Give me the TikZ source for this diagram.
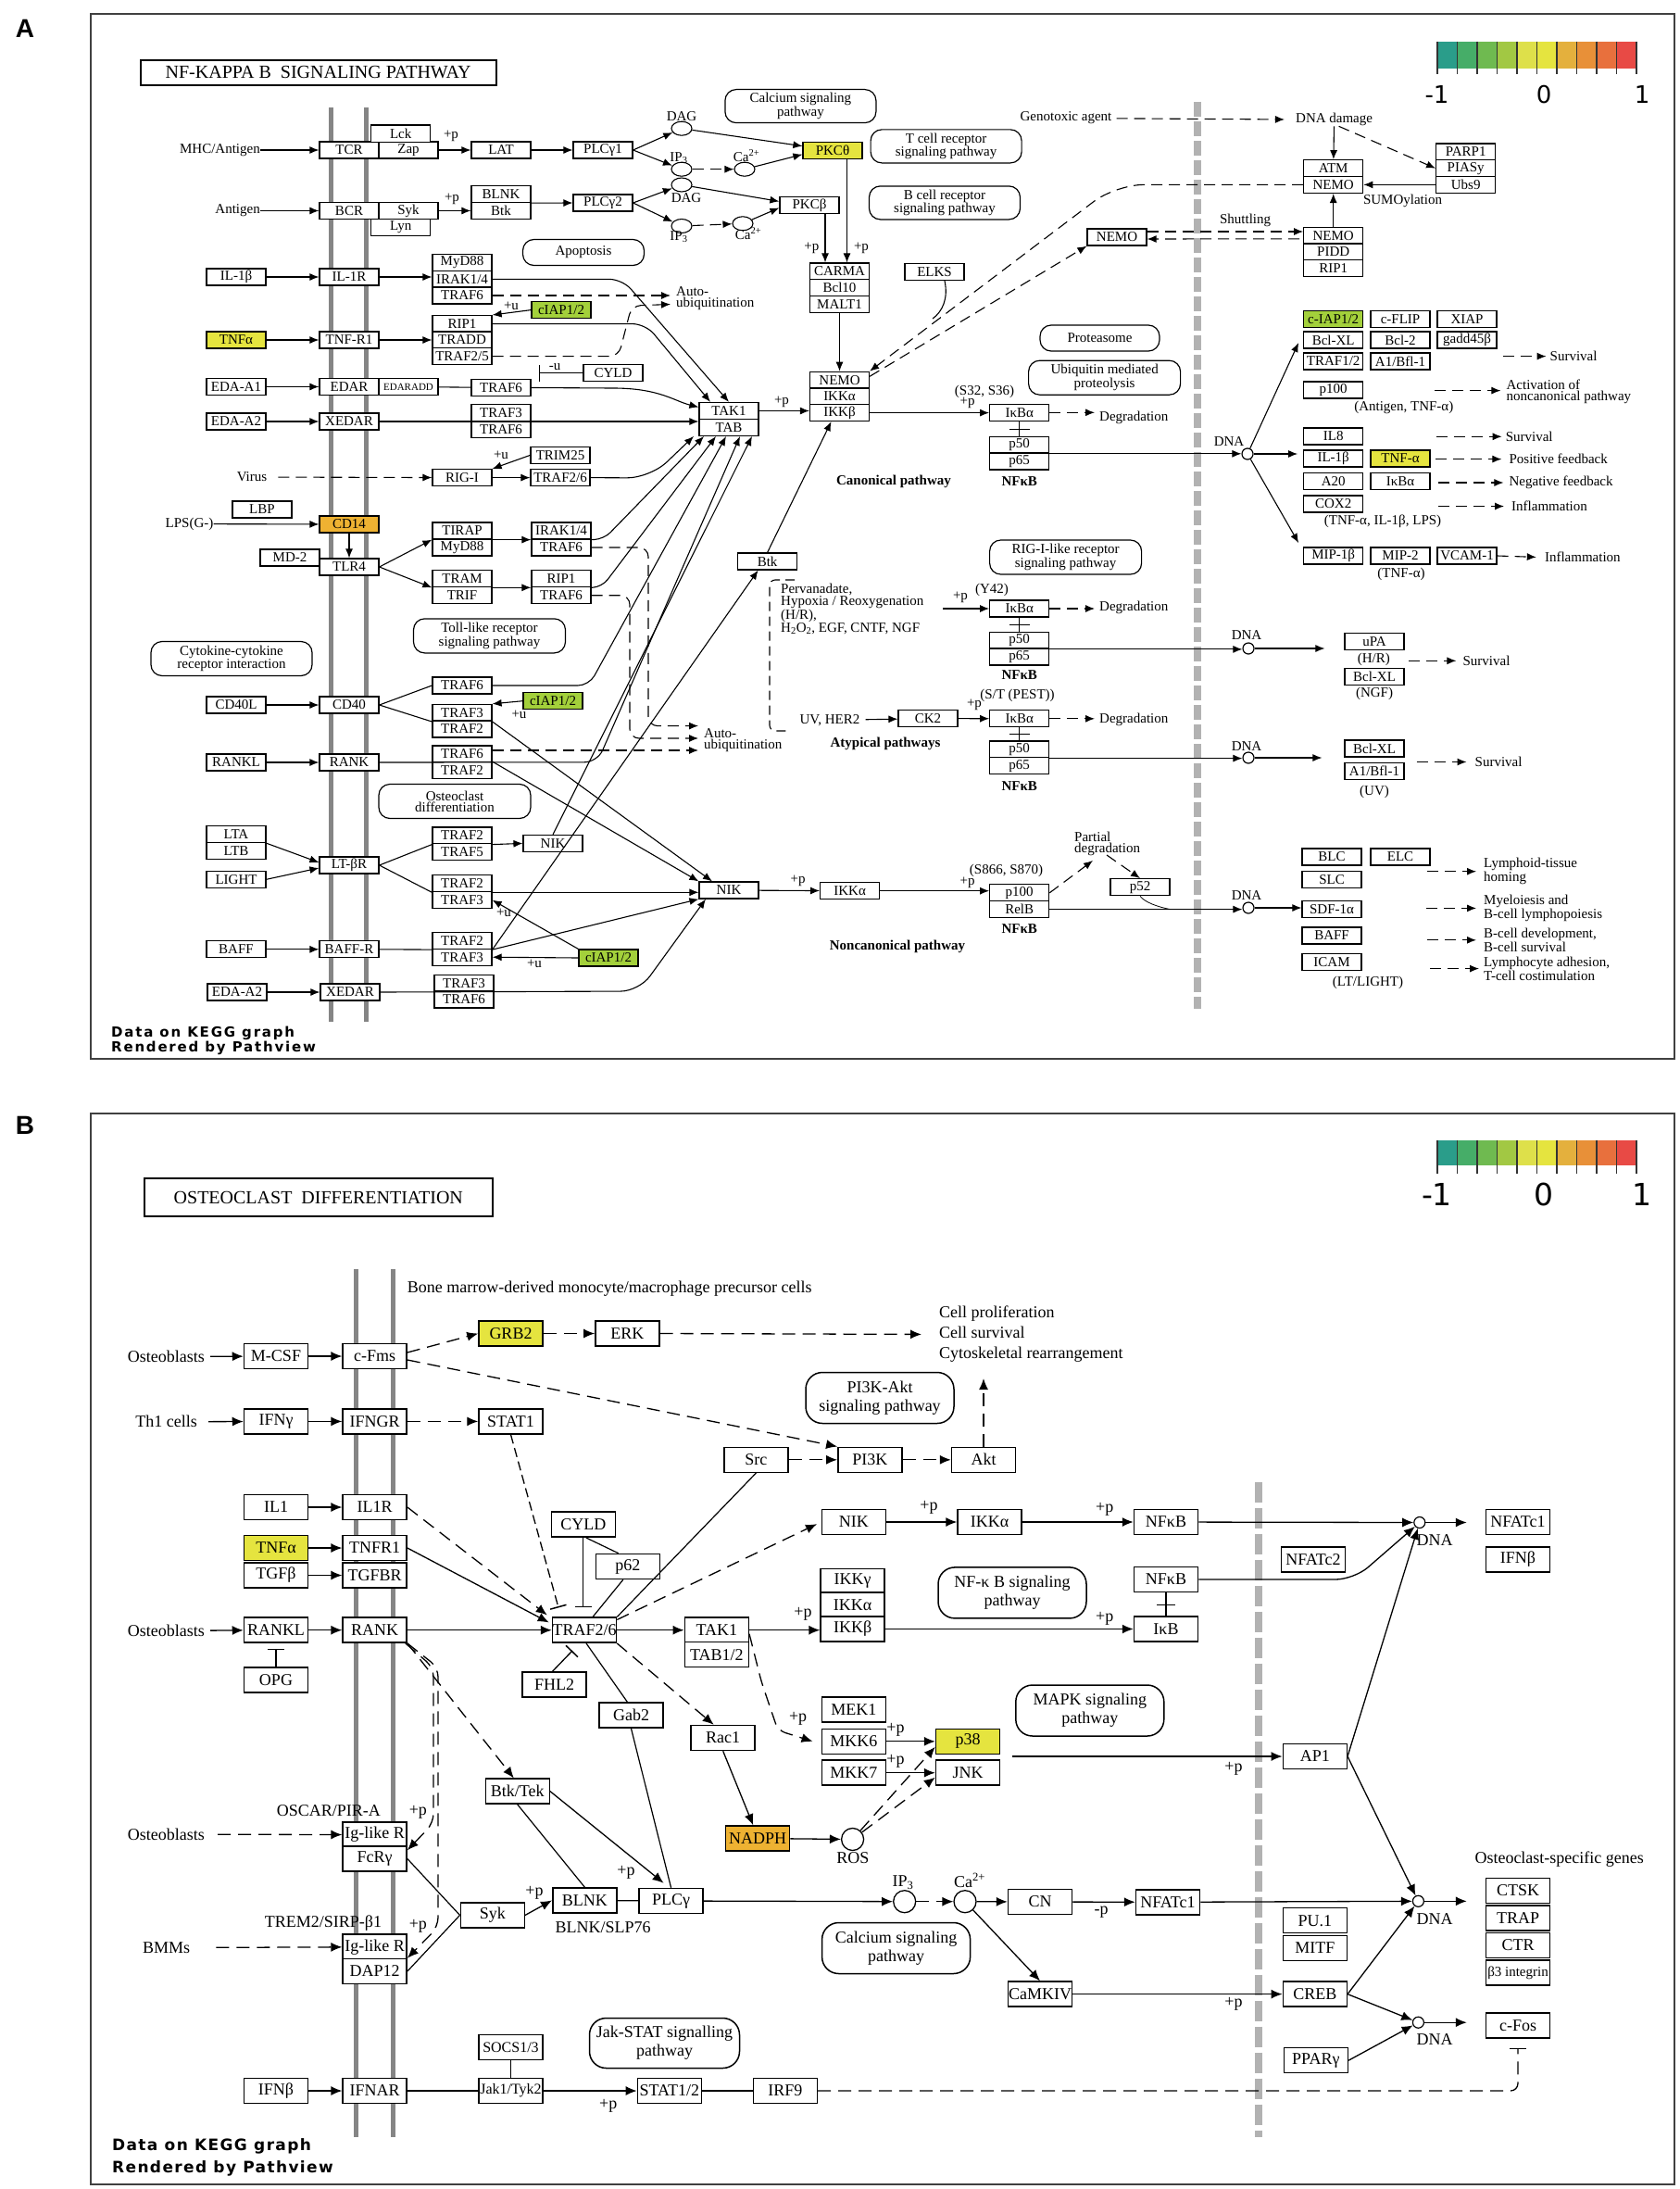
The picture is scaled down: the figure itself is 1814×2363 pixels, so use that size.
\documentclass[tikz,border=0pt]{standalone}
\usepackage{fontspec}
\setmainfont{Liberation Serif}
\newfontfamily\legfont{DejaVu Sans}
\newfontfamily\pvfontA[LetterSpace=12]{DejaVu Sans}
\newfontfamily\pvfontB[LetterSpace=8]{DejaVu Sans}
\newfontfamily\panelfont{Liberation Sans}
\usetikzlibrary{arrows.meta,shapes.geometric,positioning}

\definecolor{kyellow}{RGB}{229,228,63}
\definecolor{kgreen}{RGB}{163,208,59}
\definecolor{korange}{RGB}{238,178,50}
\definecolor{lg1}{RGB}{42,157,138}
\definecolor{lg2}{RGB}{70,173,104}
\definecolor{lg3}{RGB}{111,186,80}
\definecolor{lg4}{RGB}{162,200,67}
\definecolor{lg5}{RGB}{222,224,74}
\definecolor{lg6}{RGB}{229,228,63}
\definecolor{lg7}{RGB}{228,176,61}
\definecolor{lg8}{RGB}{232,144,56}
\definecolor{lg9}{RGB}{232,112,61}
\definecolor{lg10}{RGB}{232,74,69}

\tikzset{
  gene/.style={draw, line width=1.2pt, fill=white, minimum width=64pt, minimum height=18pt, inner sep=0pt, font=\fontsize{15}{15}\selectfont},
  bgene/.style={gene, line width=1.5pt, minimum width=69pt, minimum height=27pt, font=\fontsize{18}{18}\selectfont},
  pw/.style={draw, line width=1.2pt, rounded corners=12pt, align=center, inner sep=0pt, font=\fontsize{15}{12}\selectfont},
  bpw/.style={pw, line width=1.5pt, rounded corners=18pt, font=\fontsize{18}{20}\selectfont},
  txt/.style={inner sep=0pt, font=\fontsize{15}{12}\selectfont},
  btxt/.style={inner sep=0pt, font=\fontsize{18}{22}\selectfont},
  boldlbl/.style={inner sep=0pt, font=\fontsize{15}{12}\selectfont\bfseries},
  link/.style={line width=1.1pt},
  act/.style={-{Latex[length=10pt,width=8pt]}, line width=1.1pt},
  dact/.style={act, dash pattern=on 12pt off 7pt},
  bact/.style={-{Latex[length=12pt,width=10pt]}, line width=1.3pt},
  bdact/.style={bact, dash pattern=on 14pt off 8pt},
  inh/.style={-{Bar[width=18pt,line width=1.5pt]}, line width=1.3pt},
  cpd/.style={draw, ellipse, line width=1.1pt, fill=white, minimum width=22pt, minimum height=15pt, inner sep=0pt},
  bcpd/.style={draw, circle, line width=1.3pt, fill=white, minimum size=24pt, inner sep=0pt},
  dna/.style={draw, circle, line width=1.2pt, fill=white, minimum size=12pt, inner sep=0pt},
  membrane/.style={line width=5pt, draw=black!48},
  nucleus/.style={line width=7.5pt, draw=black!30},
  panelframe/.style={draw=black!75, line width=2pt},
  titlebox/.style={draw, line width=2pt, inner sep=0pt},
  panellbl/.style={inner sep=0pt, font=\panelfont\bfseries\fontsize{28}{28}\selectfont},
  legnum/.style={inner sep=0pt, font=\legfont\fontsize{26}{26}\selectfont},
  pvtxt/.style={inner sep=0pt, anchor=west, align=left, font=\pvfontA\bfseries\fontsize{15}{16.5}\selectfont}
}

\begin{document}
\begin{tikzpicture}[x=1pt,y=-1pt]
\useasboundingbox (0,0) rectangle (1814,2363);
\fill[white] (0,0) rectangle (1814,2363);

% frames, titles, legends
\draw[panelframe] (98,15) rectangle (1808,1143);
\draw[panelframe] (98,1202) rectangle (1808,2358);
\node[panellbl] (labA) at (27,31) {A};
\node[panellbl] (labB) at (27,1215) {B};
\node[titlebox, minimum width=384pt, minimum height=27pt, font=\fontsize{20}{20}\selectfont] (titA) at (343.7,78.4) {NF-KAPPA B\ \ SIGNALING PATHWAY};
\node[titlebox, minimum width=376pt, minimum height=41pt, font=\fontsize{20}{20}\selectfont] (titB) at (343.8,1292.5) {OSTEOCLAST\ \ DIFFERENTIATION};

\foreach \c [count=\i from 0] in {lg1,lg2,lg3,lg4,lg5,lg6,lg7,lg8,lg9,lg10} {
  \fill[\c] (1552+21.5*\i,45) rectangle ++(21.5,29);
  \fill[\c] (1552+21.5*\i,1230.7) rectangle ++(21.5,27.7);
}
\foreach \i in {0,...,10} {
  \draw[line width=1.2pt, black!80] (1552+21.5*\i,45) -- ++(0,35);
  \draw[line width=1.2pt, black!80] (1552+21.5*\i,1230.7) -- ++(0,36);
}
\node[legnum] (legA1) at (1551.5,102) {-1};
\node[legnum] (legA2) at (1667,102) {0};
\node[legnum] (legA3) at (1773,102) {1};
\node[legnum, font=\legfont\fontsize{33}{33}\selectfont] (legB1) at (1551.5,1289) {-1};
\node[legnum, font=\legfont\fontsize{33}{33}\selectfont] (legB2) at (1667,1289) {0};
\node[legnum, font=\legfont\fontsize{33}{33}\selectfont] (legB3) at (1773,1289) {1};

\node[pvtxt] (pvA) at (120,1123.4) {Data on KEGG graph\\Rendered by Pathview};
\node[pvtxt, font=\pvfontB\bfseries\fontsize{17}{24}\selectfont] (pvB) at (121,2329) {Data on KEGG graph\\Rendered by Pathview};

% membranes
\draw[membrane] (357,116) -- (357,1103);
\draw[membrane] (395,116) -- (395,1103);
\draw[nucleus, dash pattern=on 16pt off 5pt] (1293,110) -- (1293,1089);
\draw[membrane] (384.8,1370) -- (384.8,2307);
\draw[membrane] (424.8,1370) -- (424.8,2307);
\draw[nucleus, line width=8pt, dash pattern=on 22pt off 6pt] (1359.2,1599.5) -- (1359.2,2307);

%%%%%%%%%%%%%%%%%%%% panel A
\node[pw, minimum width=163pt, minimum height=36pt] (calca) at (864.4,114.6) {Calcium signaling\\pathway};
\node[pw, minimum width=163pt, minimum height=36pt] (tcrpw) at (1021.6,157.9) {T cell receptor\\signaling pathway};
\node[pw, minimum width=163pt, minimum height=36pt] (bcrpw) at (1020,218.9) {B cell receptor\\signaling pathway};
\node[pw, minimum width=131pt, minimum height=28pt] (apop) at (630,272.5) {Apoptosis};
\node[pw, minimum width=129pt, minimum height=28pt] (prot) at (1187.5,365) {Proteasome};
\node[pw, minimum width=164pt, minimum height=37pt] (ubq) at (1192.6,407.7) {Ubiquitin mediated\\proteolysis};
\node[pw, minimum width=164pt, minimum height=37pt] (tollpw) at (528.5,686.4) {Toll-like receptor\\signaling pathway};
\node[pw, minimum width=174pt, minimum height=37pt] (cytpw) at (250,711) {Cytokine-cytokine\\receptor interaction};
\node[pw, minimum width=164pt, minimum height=37pt] (ostpw) at (491,865) {Osteoclast\\differentiation};
\node[pw, minimum width=164pt, minimum height=37pt] (rigpw) at (1150.6,601.5) {RIG-I-like receptor\\signaling pathway};

\node[gene] (tcr) at (377,162) {TCR};
\node[gene] (zap) at (441,162) {Zap};
\node[gene] (lck) at (432.7,144.1) {Lck};
\node[gene] (lat) at (541,162) {LAT};
\node[gene] (plcga) at (651,162) {PLCγ1};
\node[txt, anchor=east] (mhc) at (281,162) {MHC/Antigen};
\node[gene] (bcr) at (377,227.5) {BCR};
\node[gene] (syk) at (441,227.5) {Syk};
\node[gene] (lyn) at (432.7,245.3) {Lyn};
\node[gene] (blnk) at (541,209.6) {BLNK};
\node[gene] (btka) at (541,227.5) {Btk};
\node[gene] (plcgb) at (651,219) {PLCγ2};
\node[txt, anchor=east] (antg) at (281,227.5) {Antigen};

\node[cpd] (dag1) at (736,138.7) {};
\node[cpd] (ip31) at (736,182.7) {};
\node[cpd] (ca1) at (804,182.7) {};
\node[cpd] (dag2) at (736,199.5) {};
\node[cpd] (ip32) at (736,244) {};
\node[cpd] (ca2) at (802,241.3) {};
\node[txt] (ldag1) at (736,125.5) {DAG};
\node[txt] (lip31) at (733,171) {IP\textsubscript{3}};
\node[txt] (lca1) at (806,168) {Ca\textsuperscript{2+}};
\node[txt] (ldag2) at (741,214) {DAG};
\node[txt] (lip32) at (733,256) {IP\textsubscript{3}};
\node[txt] (lca2) at (808,252) {Ca\textsuperscript{2+}};

\node[gene, fill=kyellow] (pkct) at (899,162.7) {PKCθ};
\node[gene] (pkcb) at (874,221.4) {PKCβ};
\node[gene] (carma) at (906.5,293) {CARMA};
\node[gene] (bcl10) at (906.5,310.7) {Bcl10};
\node[gene] (malt1) at (906.5,328.3) {MALT1};
\node[gene] (nemoa) at (906.5,410.3) {NEMO};
\node[gene] (ikkaa) at (906.5,428) {IKKα};
\node[gene] (ikkba) at (906.5,445.6) {IKKβ};
\node[gene] (tak1a) at (787,443.5) {TAK1};
\node[gene] (taba) at (787,461.4) {TAB};
\node[gene] (elks) at (1009,293.5) {ELKS};
\node[gene] (nemob) at (1206,256) {NEMO};

\node[gene] (il1ba) at (255,299) {IL-1β};
\node[gene] (il1r) at (377,299) {IL-1R};
\node[gene] (myd88a) at (499,283.5) {MyD88};
\node[gene] (irak1) at (499,301.4) {IRAK1/4};
\node[gene] (traf6a) at (499,319) {TRAF6};
\node[gene, fill=kgreen] (ciap1) at (606,334.6) {cIAP1/2};
\node[gene] (rip1a) at (499,349.6) {RIP1};
\node[gene] (tradd) at (499,367) {TRADD};
\node[gene] (traf25) at (499,384.6) {TRAF2/5};
\node[gene, fill=kyellow] (tnfa) at (255,367) {TNFα};
\node[gene] (tnfr1) at (377,367) {TNF-R1};
\node[gene] (edaa1) at (255,417.5) {EDA-A1};
\node[gene] (edar) at (377,417.5) {EDAR};
\node[gene, font=\fontsize{11}{11}\selectfont] (edaradd) at (441,417.5) {EDARADD};
\node[gene] (traf6b) at (541,418.5) {TRAF6};
\node[gene] (cylda) at (662,402.5) {CYLD};
\node[gene] (edaa2) at (255,455) {EDA-A2};
\node[gene] (xedara) at (377,455) {XEDAR};
\node[gene] (traf3a) at (541,445.4) {TRAF3};
\node[gene] (traf6c) at (541,463.2) {TRAF6};
\node[txt] (virus) at (272,515) {Virus};
\node[gene] (rigi) at (499,515.6) {RIG-I};
\node[gene] (trim25) at (605,491.4) {TRIM25};
\node[gene] (traf26a) at (605,515.6) {TRAF2/6};
\node[gene] (lbp) at (283,550) {LBP};
\node[txt] (lps) at (204.5,565.6) {LPS(G-)};
\node[gene, fill=korange] (cd14) at (377,566) {CD14};
\node[gene] (md2) at (313,602) {MD-2};
\node[gene] (tlr4) at (377,612) {TLR4};
\node[gene] (tirap) at (499,573) {TIRAP};
\node[gene] (myd88b) at (499,591) {MyD88};
\node[gene] (irak2) at (606,573) {IRAK1/4};
\node[gene] (traf6d) at (606,591) {TRAF6};
\node[gene] (tram) at (499,624.7) {TRAM};
\node[gene] (trif) at (499,642.7) {TRIF};
\node[gene] (rip1b) at (606,624.7) {RIP1};
\node[gene] (traf6e) at (606,642.7) {TRAF6};
\node[gene] (cd40l) at (255,761) {CD40L};
\node[gene] (cd40) at (377,761) {CD40};
\node[gene] (traf6f) at (499,740) {TRAF6};
\node[gene] (traf3b) at (499,769.4) {TRAF3};
\node[gene] (traf2b) at (499,787) {TRAF2};
\node[gene, fill=kgreen] (ciap2) at (597,756.7) {cIAP1/2};
\node[gene] (rankla) at (255,823) {RANKL};
\node[gene] (ranka) at (377,823) {RANK};
\node[gene] (traf6g) at (499,814) {TRAF6};
\node[gene] (traf2c) at (499,831.7) {TRAF2};
\node[gene] (lta) at (255,900.6) {LTA};
\node[gene] (ltb) at (255,918.4) {LTB};
\node[gene] (light) at (255,949.3) {LIGHT};
\node[gene] (ltbr) at (377,934) {LT-βR};
\node[gene] (traf2d) at (499,902) {TRAF2};
\node[gene] (traf5) at (499,919.6) {TRAF5};
\node[gene] (niksm) at (597,910.4) {NIK};
\node[gene] (traf2e) at (499,953.7) {TRAF2};
\node[gene] (traf3c) at (499,971.6) {TRAF3};
\node[gene] (baffa) at (255,1024.8) {BAFF};
\node[gene] (baffr) at (377,1024.8) {BAFF-R};
\node[gene] (traf2f) at (499,1015.5) {TRAF2};
\node[gene] (traf3d) at (499,1033.2) {TRAF3};
\node[gene, fill=kgreen] (ciap3) at (657,1034) {cIAP1/2};
\node[gene] (edaa2b) at (256,1071) {EDA-A2};
\node[gene] (xedarb) at (378,1071) {XEDAR};
\node[gene] (traf3e) at (501,1061.3) {TRAF3};
\node[gene] (traf6h) at (501,1079) {TRAF6};
\node[gene] (btka2) at (828.6,606) {Btk};
\node[gene] (nikbg) at (787,961) {NIK};
\node[gene] (ikkab) at (917.6,961.7) {IKKα};

% canonical / atypical / noncanonical NF-kB
\node[gene] (ikba1) at (1100.7,445.3) {IκBα};
\node[gene] (p50a) at (1100.7,480.2) {p50};
\node[gene] (p65a) at (1100.7,498) {p65};
\node[boldlbl] (nfkb1) at (1100.7,519.6) {NFκB};
\node[boldlbl] (canon) at (965,519.6) {Canonical pathway};
\node[txt] (s3236) at (1063,423) {(S32, S36)};
\node[txt, anchor=west] (deg1) at (1187,450.7) {Degradation};
\node[txt, anchor=north west, align=left, font=\fontsize{15}{11.5}\selectfont] (perv) at (843,630) {Pervanadate,\\Hypoxia / Reoxygenation\\(H/R),\\H\textsubscript{2}O\textsubscript{2}, EGF, CNTF, NGF};
\node[txt] (y42) at (1071,637) {(Y42)};
\node[gene] (ikba2) at (1100.7,657) {IκBα};
\node[gene] (p50b) at (1100.7,691.3) {p50};
\node[gene] (p65b) at (1100.7,709) {p65};
\node[boldlbl] (nfkb2) at (1100.7,729) {NFκB};
\node[txt, anchor=west] (deg2) at (1187,656) {Degradation};
\node[txt] (uvher) at (896,777.4) {UV, HER2};
\node[gene] (ck2) at (1002,775.6) {CK2};
\node[txt] (stpest) at (1098.5,751) {(S/T (PEST))};
\node[gene] (ikba3) at (1100.7,775.8) {IκBα};
\node[gene] (p50c) at (1100.7,809) {p50};
\node[gene] (p65c) at (1100.7,826.8) {p65};
\node[boldlbl] (nfkb3) at (1100.7,848.3) {NFκB};
\node[txt, anchor=west] (deg3) at (1187,777.4) {Degradation};
\node[boldlbl] (atyp) at (956,802.5) {Atypical pathways};
\node[txt] (s866) at (1086.5,940) {(S866, S870)};
\node[gene] (p100a) at (1100.7,963.8) {p100};
\node[gene] (relb) at (1100.7,981.6) {RelB};
\node[boldlbl] (nfkb4) at (1100.7,1002.4) {NFκB};
\node[boldlbl] (noncan) at (969,1021.7) {Noncanonical pathway};
\node[txt, anchor=west, align=left] (partdeg) at (1160,911) {Partial\\degradation};
\node[gene] (p52) at (1231,957.7) {p52};
\coordinate (pd1) at (1180,929);
\coordinate (pd2) at (1195,923);

% top right
\node[txt] (geno) at (1151,127.5) {Genotoxic agent};
\node[txt] (dnadmg) at (1440.6,129.3) {DNA damage};
\node[gene] (atm) at (1439.7,181.7) {ATM};
\node[gene] (nemoc) at (1439.7,199.4) {NEMO};
\node[gene] (parp1) at (1582.7,164) {PARP1};
\node[gene] (piasy) at (1582.7,181.7) {PIASy};
\node[gene] (ubs9) at (1582.7,199.4) {Ubs9};
\node[txt] (sumo) at (1514.5,216.8) {SUMOylation};
\node[gene] (nemod) at (1439.7,254.3) {NEMO};
\node[gene] (pidd) at (1439.7,272) {PIDD};
\node[gene] (rip1c) at (1439.7,289.7) {RIP1};
\node[txt] (shut) at (1344.6,237.5) {Shuttling};

% nucleus targets
\node[dna] (dnaa1) at (1347,490) {};
\node[txt] (ldnaa1) at (1327,476.4) {DNA};
\node[gene, fill=kgreen] (ciapb) at (1439.7,344.2) {c-IAP1/2};
\node[gene] (cflip) at (1512,344.2) {c-FLIP};
\node[gene] (xiap) at (1584,344.2) {XIAP};
\node[gene] (bclxla) at (1439.7,367) {Bcl-XL};
\node[gene] (bcl2) at (1512,367) {Bcl-2};
\node[gene] (gadd) at (1584,367) {gadd45β};
\node[gene] (traf12) at (1439.7,390) {TRAF1/2};
\node[gene] (a1bfla) at (1512,390) {A1/Bfl-1};
\node[gene] (p100b) at (1439.7,421) {p100};
\node[txt] (agtnf) at (1515.8,440) {(Antigen, TNF-α)};
\node[gene] (il8) at (1439.7,470.9) {IL8};
\node[gene] (il1bb) at (1439.7,495) {IL-1β};
\node[gene, fill=kyellow] (tnfab) at (1512,495) {TNF-α};
\node[gene] (a20) at (1439.7,519.4) {A20};
\node[gene] (ikbab) at (1512,519.4) {IκBα};
\node[gene] (cox2) at (1439.7,544) {COX2};
\node[txt] (tnflps) at (1493,563) {(TNF-α, IL-1β, LPS)};
\node[gene] (mip1b) at (1439.7,600) {MIP-1β};
\node[gene] (mip2) at (1512,600) {MIP-2};
\node[gene] (vcam) at (1584,600) {VCAM-1};
\node[txt] (tnfonly) at (1513,620) {(TNF-α)};
\node[txt, anchor=west] (surv1) at (1673.5,384.6) {Survival};
\node[txt, anchor=west, align=left] (actnc) at (1626.4,422.6) {Activation of\\noncanonical pathway};
\node[txt, anchor=west] (surv2) at (1625.6,471.3) {Survival};
\node[txt, anchor=west] (posfb) at (1629.4,495.6) {Positive feedback};
\node[txt, anchor=west] (negfb) at (1629.4,521) {Negative feedback};
\node[txt, anchor=west] (infl1) at (1632,546.5) {Inflammation};
\node[txt, anchor=west] (infl2) at (1667.8,601.4) {Inflammation};

\node[dna] (dnaa2) at (1348,700) {};
\node[txt] (ldnaa2) at (1346,686) {DNA};
\node[gene] (upa) at (1484,692.7) {uPA};
\node[txt] (hr) at (1483.4,711.6) {(H/R)};
\node[gene] (bclxlb) at (1484,730.5) {Bcl-XL};
\node[txt] (ngf) at (1484,749) {(NGF)};
\node[txt, anchor=west] (surv3) at (1579.4,713.3) {Survival};
\node[dna] (dnaa3) at (1348,818) {};
\node[txt] (ldnaa3) at (1346,806) {DNA};
\node[gene] (bclxlc) at (1484,808) {Bcl-XL};
\node[gene] (a1bflb) at (1484,832.2) {A1/Bfl-1};
\node[txt] (uvl) at (1484,854.4) {(UV)};
\node[txt, anchor=west] (surv4) at (1592.5,822.5) {Survival};
\node[dna] (dnaa4) at (1348,980) {};
\node[txt] (ldnaa4) at (1346,967) {DNA};
\node[gene] (blc) at (1438,925) {BLC};
\node[gene] (elc) at (1512,925) {ELC};
\node[gene] (slc) at (1438,949.3) {SLC};
\node[gene] (sdf1a) at (1438,981.7) {SDF-1α};
\node[gene] (baffb) at (1438,1010) {BAFF};
\node[gene] (icam) at (1438,1038.4) {ICAM};
\node[txt] (ltlight) at (1477,1061) {(LT/LIGHT)};
\node[txt, anchor=west, align=left] (lymph) at (1602,940.7) {Lymphoid-tissue\\homing};
\node[txt, anchor=west, align=left] (myelo) at (1602,980.4) {Myeloiesis and\\B-cell lymphopoiesis};
\node[txt, anchor=west, align=left] (bdev) at (1602,1014.8) {B-cell development,\\B-cell survival};
\node[txt, anchor=west, align=left] (ladh) at (1602,1045.6) {Lymphocyte adhesion,\\T-cell costimulation};

\node[txt, anchor=west, align=left] (autoa) at (730,322.6) {Auto-\\ubiquitination};
\node[txt, anchor=west, align=left] (autob) at (760,799.4) {Auto-\\ubiquitination};
\coordinate (au1a) at (724,319);
\coordinate (au1b) at (724,328.5);
\coordinate (au2a) at (754,783.6);
\coordinate (au2b) at (754,797);
\coordinate (au2c) at (754,810);

% small labels
\node[txt] (pA1) at (487,147) {+p};
\node[txt] (pA2) at (488,215) {+p};
\node[txt] (uA1) at (552,330) {+u};
\node[txt] (uA2) at (541,491.7) {+u};
\node[txt] (uA3) at (599,396) {-u};
\node[txt] (uA4) at (560.5,771) {+u};
\node[txt] (uA5) at (544,985) {+u};
\node[txt] (uA6) at (577,1040) {+u};
\node[txt] (pA3) at (876.4,267.5) {+p};
\node[txt] (pA4) at (930,267.5) {+p};
\node[txt] (pA5) at (844,434) {+p};
\node[txt] (pA6) at (1044.7,434.6) {+p};
\node[txt] (pA7) at (1037,645) {+p};
\node[txt] (pA8) at (1052,761) {+p};
\node[txt] (pA9) at (861.6,950.8) {+p};
\node[txt] (pA10) at (1044.7,952.6) {+p};

% connectors A
\draw[act] (mhc) -- (tcr);
\draw[act] (zap) -- (lat);
\draw[act] (lat) -- (plcga);
\draw[act] (antg) -- (bcr);
\draw[act] (syk) -- (btka);
\draw[act] (blnk.south east) -- (plcgb.west);
\draw[act] (plcga.east) -- (dag1);
\draw[act] (plcga.east) -- (ip31);
\draw[dact] (ip31) -- (ca1);
\draw[act] (dag1) -- ([yshift=5pt]pkct.west);
\draw[act] (ca1) -- ([yshift=-4pt]pkct.west);
\draw[act] (plcgb.east) -- (dag2);
\draw[act] (plcgb.east) -- (ip32);
\draw[dact] (ip32) -- (ca2);
\draw[act] (dag2) -- ([yshift=4pt]pkcb.west);
\draw[act] (ca2) -- ([yshift=-3pt]pkcb.west);
\draw[act] ([xshift=17pt]pkcb.south) -- ([xshift=-15.5pt]carma.north);
\draw[act] ([xshift=15.5pt]pkct.south) -- ([xshift=8pt]carma.north);
\draw[act] (malt1) -- (nemoa);
\draw[act] (tak1a.east) -- (tak1a.east -| ikkba.west);
\draw[act] (il1ba) -- (il1r);
\draw[act] (il1r.east) -- (il1r.east -| irak1.west);
\draw[act] (tnfa) -- (tnfr1);
\draw[act] (tnfr1) -- (tradd);
\draw[act] (ciap1.west) -- (rip1a.north east);
\draw[act] (edaa1) -- (edar);
\draw[link] (edaradd) -- (traf6b);
\draw[inh] (cylda.west) -- ([xshift=8pt]traf6b.east |- cylda.west);
\draw[act] (edaa2) -- (xedara);
\draw[act] (xedara.east) -- (xedara.east -| tak1a.west);
\draw[act] (traf6b.east) -- (662,419) .. controls (712,419) and (728,433) .. ([yshift=4pt]tak1a.west);
\draw[act, rounded corners=14pt] (irak1.east) -- (672,301.4) -- (tak1a.north);
\draw[act, rounded corners=14pt] (rip1a.east) -- (697,349.6) -- ([xshift=-20pt]tak1a.north);
\draw[dact] (traf6a.east) -- (au1a);
\draw[dact, rounded corners=10pt] (traf25.east) -- (668,384.6) -- (682,330) -- (au1b);
\draw[dact, shorten <=12pt] (virus) -- (rigi);
\draw[act] (trim25.west) -- (rigi.north east);
\draw[act] (rigi) -- (traf26a);
\draw[act, rounded corners=25pt] (traf26a.east) -- (702,516) -- ([xshift=-38pt]taba.south);
\draw[act] (lps) -- (cd14);
\draw[act] (cd14) -- (tlr4);
\draw[act] (tlr4.east) -- (tirap.south west);
\draw[act] (tirap.south east) -- (irak2.south west);
\draw[act] (tlr4.east) -- (tram.south west);
\draw[act] (tram.south east) -- (rip1b.south west);
\draw[act, rounded corners=10pt] (irak2.south east) -- (652,582) -- ([xshift=-27pt]taba.south);
\draw[act, rounded corners=10pt] (rip1b.south east) -- (650,633.7) -- ([xshift=-14pt]taba.south);
\draw[act, rounded corners=12pt] (traf6f.east) -- (636,740) -- ([xshift=-3pt]taba.south);
\draw[act, rounded corners=14pt] (ranka.east) -- (645,822.8) -- ([xshift=12pt]taba.south);
\draw[act] (niksm.north) -- ([xshift=25pt]taba.south);
\draw[dact, rounded corners=10pt] (traf6d.east) -- (700,591) -- (700,783.6) -- (au2a);
\draw[dact, rounded corners=10pt] (traf6e.east) -- (680,642.7) -- (680,797) -- (au2b);
\draw[dact] ([yshift=4pt]traf6g.east) -- (au2c);
\draw[act] (cd40l) -- (cd40);
\draw[link] (cd40.east) -- (traf6f.west);
\draw[link] (cd40.east) -- (traf3b.south west);
\draw[act] (ciap2.west) -- (traf3b.north east);
\draw[act] (traf3b.south east) -- ([xshift=-18pt]nikbg.north);
\draw[act] (rankla) -- (ranka);
\draw[act] (traf2c.north east) -- (nikbg.north west);
\draw[act] (lta.south east) -- ([yshift=3pt]ltbr.west);
\draw[act] (light.east) -- ([yshift=-3pt]ltbr.west);
\draw[link] (ltbr.east) -- (traf2d.south west);
\draw[link] (ltbr.east) -- (traf2e.south west);
\draw[act] (traf2d.south east) -- (niksm.west);
\draw[act] (traf2e.south east) -- (traf2e.south east -| nikbg.west);
\draw[act] (baffa) -- (baffr);
\draw[link] (baffr.east) -- (traf2f.south west);
\draw[act] (ciap3.west) -- (traf3d.east);
\draw[act] (ciap3.north west) -- (traf3c.east);
\draw[act] (traf2f.south east) -- (nikbg.south west);
\draw[act] (traf2f.south east) -- ([xshift=-10pt]btka2.south);
\draw[act] (btka2.north) -- ([xshift=-9pt]ikkba.south);
\draw[act] (edaa2b) -- (xedarb);
\draw[act, rounded corners=20pt] (xedarb.east) -- (690,1070) -- ([xshift=-25pt]nikbg.south);
\draw[act] (nikbg) -- (ikkab);
\draw[act] (ikkab.east) -- (ikkab.east -| p100a.west);
\draw[dact] (p100a.east) -- (pd1);
\draw[dact] (pd2) -- (p52.north);
\draw[line width=0.8pt] (p52.south) .. controls (1236,974) and (1250,979) .. (relb.east -| p52.east);

\draw[act] (ikkba.east) -- (ikkba.east -| ikba1.west);
\draw[dact, shorten >=5pt] (ikba1.east) -- (ikba1.east -| deg1.west);
\draw[link] (ikba1.south) -- (p50a.north);
\draw[link] ([xshift=-11pt,yshift=-9pt]ikba1.south) -- ([xshift=11pt,yshift=-9pt]ikba1.south);
\draw[act] (p50a.south east) -- (p50a.south east -| dnaa1.west);
\draw[act] (dnaa1) -- ([xshift=-5pt,yshift=-3pt]bclxla.west);
\draw[act] (dnaa1.east) -- ([xshift=-6pt]il1bb.west |- dnaa1.east);
\draw[act] (dnaa1) -- ([xshift=-5pt,yshift=14pt]mip1b.west);

\draw[link, dash pattern=on 10pt off 6pt, rounded corners=6pt] (858,626) -- (831,626) -- (831,789) -- (852,789);
\draw[act] ([xshift=-50pt]ikba2.west) -- (ikba2.west);
\draw[dact, shorten >=5pt] (ikba2.east) -- (ikba2.east -| deg2.west);
\draw[link] (ikba2.south) -- (p50b.north);
\draw[link] ([xshift=-11pt,yshift=-8pt]ikba2.south) -- ([xshift=11pt,yshift=-8pt]ikba2.south);
\draw[act] (p50b.south east) -- (p50b.south east -| dnaa2.west);
\draw[act] (dnaa2.east) -- ([xshift=-21pt]upa.west |- dnaa2.east);
\draw[act, shorten <=6pt] (uvher) -- (ck2);
\draw[act] (ck2) -- (ikba3);
\draw[dact, shorten >=5pt] (ikba3.east) -- (ikba3.east -| deg3.west);
\draw[link] (ikba3.south) -- (p50c.north);
\draw[link] ([xshift=-11pt,yshift=-7pt]ikba3.south) -- ([xshift=11pt,yshift=-7pt]ikba3.south);
\draw[act] (p50c.south east) -- (p50c.south east -| dnaa3.west);
\draw[act] (dnaa3.east) -- ([xshift=-24pt]bclxlc.west |- dnaa3.east);
\draw[act] (relb.east) -- (relb.east -| dnaa4.west);
\draw[act] (dnaa4.east) -- (dnaa4.east -| sdf1a.west);

\draw[dact, shorten <=5pt, shorten >=12pt] (geno) -- (dnadmg);
\draw[act] (dnadmg) -- (atm);
\draw[dact] ([xshift=5pt]dnadmg.south) -- (piasy.west);
\draw[act] (ubs9.west) -- (nemoc.east);
\draw[act] (nemod) -- (nemoc);
\draw[dact] ([yshift=6pt]nemob.east) -- ([yshift=4.3pt]nemod.west);
\draw[dact] ([xshift=-4pt,yshift=-3.5pt]nemod.west) -- ([yshift=-2pt]nemob.east);
\draw[dact, rounded corners=30pt] (nemoc.west) -- (1205,199.4) -- (nemoa.north east);
\draw[dact] ([yshift=4pt]nemoa.east) -- (nemob.south west);
\draw[link] ([xshift=11pt]elks.south) .. controls (1024,322) and (1018,336) .. (1007,344);

\draw[dact] ([xshift=-51pt]surv1.west) -- ([xshift=-4pt]surv1.west);
\draw[dact] ([xshift=-77pt,yshift=1pt]actnc.west) -- ([xshift=-6pt,yshift=1pt]actnc.west);
\draw[dact] ([xshift=-75pt]surv2.west) -- ([xshift=-4pt]surv2.west);
\draw[dact] ([xshift=-79pt]posfb.west) -- ([xshift=-8pt]posfb.west);
\draw[dact] ([xshift=-76pt]negfb.west) -- ([xshift=-6pt]negfb.west);
\draw[dact] ([xshift=-79pt]infl1.west) -- ([xshift=-8pt]infl1.west);
\draw[dact] (vcam.east) -- ([xshift=-9pt]infl2.west);
\draw[dact] ([xshift=-58pt]surv3.west) -- ([xshift=-7pt]surv3.west);
\draw[dact] ([xshift=-63pt]surv4.west) -- ([xshift=-9pt]surv4.west);
\draw[dact] ([xshift=-61pt]lymph.west) -- ([xshift=-8pt]lymph.west);
\draw[dact] ([xshift=-62pt]myelo.west) -- ([xshift=-8pt]myelo.west);
\draw[dact] ([xshift=-61pt]bdev.west) -- ([xshift=-8pt]bdev.west);
\draw[dact] ([xshift=-58pt]ladh.west) -- ([xshift=-5pt]ladh.west);

%%%%%%%%%%%%%%%%%%%% panel B
\node[btxt, anchor=west] (bmdm) at (439.6,1391.6) {Bone marrow-derived monocyte/macrophage precursor cells};
\node[bpw, minimum width=160pt, minimum height=55pt] (bpi3kpw) at (950,1509) {PI3K-Akt\\signaling pathway};
\node[bpw, minimum width=160pt, minimum height=55pt] (bnfkbpw) at (1093,1719.4) {NF-κ B signaling\\pathway};
\node[bpw, minimum width=160pt, minimum height=55pt] (bmapkpw) at (1176.8,1846.5) {MAPK signaling\\pathway};
\node[bpw, minimum width=160pt, minimum height=55pt] (bcalcpw) at (967.6,2103) {Calcium signaling\\pathway};
\node[bpw, minimum width=162pt, minimum height=54pt] (bjakpw) at (717.5,2205.5) {Jak-STAT signalling\\pathway};

\node[btxt, anchor=east] (bob1) at (221,1464.5) {Osteoblasts};
\node[bgene] (bmcsf) at (298,1464) {M-CSF};
\node[bgene] (bcfms) at (404.6,1464) {c-Fms};
\node[bgene, fill=kyellow] (bgrb2) at (551.5,1439.5) {GRB2};
\node[bgene] (berk) at (677.4,1439.5) {ERK};
\node[btxt, anchor=west, align=left] (bcellfx) at (1014,1440.4) {Cell proliferation\\Cell survival\\Cytoskeletal rearrangement};
\node[btxt, anchor=east] (bth1) at (213,1534.8) {Th1 cells};
\node[bgene] (bifng) at (298,1534.4) {IFNγ};
\node[bgene] (bifngr) at (404.6,1534.4) {IFNGR};
\node[bgene] (bstat1) at (551.5,1534.4) {STAT1};
\node[bgene] (bsrc) at (816.4,1575.8) {Src};
\node[bgene] (bpi3k) at (939.3,1575.8) {PI3K};
\node[bgene] (bakt) at (1062,1575.8) {Akt};
\coordinate (baktup) at (1062,1488);
\node[bgene] (bil1) at (298,1627) {IL1};
\node[bgene] (bil1r) at (404.6,1627) {IL1R};
\node[bgene, fill=kyellow] (btnfa) at (298,1671) {TNFα};
\node[bgene] (btnfr1) at (404.6,1671) {TNFR1};
\node[bgene] (btgfb) at (298,1700.5) {TGFβ};
\node[bgene] (btgfbr) at (404.6,1700.5) {TGFBR};
\node[bgene] (bcyld) at (629.8,1645.7) {CYLD};
\node[bgene] (bp62) at (677.8,1691) {p62};
\node[btxt, anchor=east] (bob2) at (221,1760.4) {Osteoblasts};
\node[bgene] (brankl) at (298,1759.7) {RANKL};
\node[bgene] (brank) at (404.6,1759.7) {RANK};
\node[bgene] (btraf26) at (631,1759.7) {TRAF2/6};
\node[bgene] (bopg) at (298,1813.5) {OPG};
\node[bgene] (bfhl2) at (598.5,1818.5) {FHL2};
\node[bgene] (bgab2) at (681.5,1851.7) {Gab2};
\node[bgene] (bnik) at (921.8,1643) {NIK};
\node[bgene] (bikka) at (1068.5,1643) {IKKα};
\node[bgene] (bnfkb1) at (1259,1643) {NFκB};
\node[bgene] (bikkg) at (920.6,1706.8) {IKKγ};
\node[bgene] (bikka2) at (920.6,1732.7) {IKKα};
\node[bgene] (bikkb) at (920.6,1758.5) {IKKβ};
\node[bgene] (bnfkb2) at (1259,1705) {NFκB};
\node[bgene] (bikb) at (1259,1758.5) {IκB};
\node[bgene] (btak1) at (773.8,1759.7) {TAK1};
\node[bgene] (btab12) at (773.8,1786.2) {TAB1/2};
\node[bgene] (brac1) at (780.7,1876) {Rac1};
\node[bgene, fill=korange] (bnadph) at (818.2,1984.5) {NADPH};
\node[bcpd] (bros) at (920.6,1985.5) {};
\node[btxt] (lbros) at (920.8,2006) {ROS};
\node[bgene] (bmek1) at (921.8,1845.4) {MEK1};
\node[bgene] (bmkk6) at (921.8,1879.8) {MKK6};
\node[bgene] (bmkk7) at (921.8,1913.7) {MKK7};
\node[bgene, fill=kyellow] (bp38) at (1045,1879.8) {p38};
\node[bgene] (bjnk) at (1045,1913.7) {JNK};
\node[bgene] (bbtk) at (558.8,1933.7) {Btk/Tek};
\node[btxt] (boscar) at (354.8,1955) {OSCAR/PIR-A};
\node[btxt, anchor=east] (bob3) at (221,1980) {Osteoblasts};
\node[bgene] (bigl1) at (404.6,1980.6) {Ig-like R};
\node[bgene] (bfcrg) at (404.6,2006.5) {FcRγ};
\node[btxt] (btrem) at (349,2075.7) {TREM2/SIRP-β1};
\node[btxt, anchor=east] (bbmm) at (205.4,2102.5) {BMMs};
\node[bgene] (bigl2) at (404.6,2101.7) {Ig-like R};
\node[bgene] (bdap12) at (404.6,2128) {DAP12};
\node[bgene] (bsyk) at (531.8,2067.4) {Syk};
\node[bgene] (bblnk) at (631.3,2051.4) {BLNK};
\node[btxt, anchor=west] (bslp) at (599.4,2080.7) {BLNK/SLP76};
\node[bgene] (bplcg) at (724.6,2052) {PLCγ};
\node[bcpd] (bip3) at (976.7,2052.7) {};
\node[btxt] (lbip3) at (975,2032) {IP\textsubscript{3}};
\node[bcpd] (bca) at (1042,2052.7) {};
\node[btxt] (lbca) at (1047,2030) {Ca\textsuperscript{2+}};
\node[bgene] (bcn) at (1123,2053) {CN};
\node[bgene] (bnfatc1a) at (1261,2053.3) {NFATc1};
\node[bgene] (bcamk) at (1123,2152.6) {CaMKIV};
\node[bgene] (bap1) at (1419.8,1896) {AP1};
\node[bgene] (bnfatc2) at (1418,1683.5) {NFATc2};
\node[dna] (bdna1) at (1532.8,1643.5) {};
\node[btxt] (lbdna1) at (1549,1662.4) {DNA};
\node[bgene] (bnfatc1b) at (1639,1643) {NFATc1};
\node[bgene] (bifnb2) at (1639,1683.5) {IFNβ};
\node[btxt] (bosg) at (1683.7,2006.8) {Osteoclast-specific genes};
\node[dna] (bdna2) at (1531.4,2052.3) {};
\node[btxt] (lbdna2) at (1549,2072) {DNA};
\node[bgene] (bctsk) at (1639,2041) {CTSK};
\node[bgene] (btrap) at (1639,2070.5) {TRAP};
\node[bgene] (bctr) at (1639,2100) {CTR};
\node[bgene, font=\fontsize{15}{15}\selectfont] (bb3) at (1639,2129.7) {β3 integrin};
\node[bgene] (bpu1) at (1419.8,2073.2) {PU.1};
\node[bgene] (bmitf) at (1419.8,2103) {MITF};
\node[bgene] (bcreb) at (1419.8,2152.6) {CREB};
\node[bgene] (bpparg) at (1420.8,2224.2) {PPARγ};
\node[dna] (bdna3) at (1531.4,2183.2) {};
\node[btxt] (lbdna3) at (1549,2202) {DNA};
\node[bgene] (bcfos) at (1639,2186.6) {c-Fos};
\node[bgene, font=\fontsize{16}{16}\selectfont] (bsocs) at (551.5,2210) {SOCS1/3};
\node[bgene, font=\fontsize{16}{16}\selectfont] (bjak) at (551.5,2257) {Jak1/Tyk2};
\node[bgene] (bifnb) at (298,2257) {IFNβ};
\node[bgene] (bifnar) at (404.6,2257) {IFNAR};
\node[bgene] (bstat12) at (722.9,2257) {STAT1/2};
\node[bgene] (birf9) at (847.8,2257) {IRF9};

\node[btxt] (pB1) at (1003,1627) {+p};
\node[btxt] (pB2) at (1192.7,1629) {+p};
\node[btxt] (pB3) at (867,1742) {+p};
\node[btxt] (pB4) at (1192.7,1747.5) {+p};
\node[btxt] (pB5) at (861.6,1855) {+p};
\node[btxt] (pB6) at (967,1867) {+p};
\node[btxt] (pB7) at (967,1901.6) {+p};
\node[btxt] (pB8) at (1332,1909) {+p};
\node[btxt] (pB9) at (1332,2163.7) {+p};
\node[btxt] (pB10) at (1189,2064) {-p};
\node[btxt] (pB11) at (451.4,1956) {+p};
\node[btxt] (pB12) at (451.4,2079.6) {+p};
\node[btxt] (pB13) at (577,2043) {+p};
\node[btxt] (pB14) at (676,2021) {+p};
\node[btxt] (pB15) at (656.7,2273) {+p};

% connectors B
\draw[bact, shorten <=6pt] (bob1) -- (bmcsf);
\draw[bact] (bmcsf) -- (bcfms);
\draw[bdact] ([yshift=4pt]bcfms.east) -- (bgrb2.west);
\draw[bdact] (bgrb2) -- (berk);
\draw[bdact] (berk.east) -- ([xshift=-19pt]bcellfx.west);
\draw[bdact] ([yshift=-4pt]bcfms.east) -- (bpi3k.north west);
\draw[bact, shorten <=12pt] (bth1) -- (bifng);
\draw[bact] (bifng) -- (bifngr);
\draw[bdact] (bifngr) -- (bstat1);
\draw[inh, dash pattern=on 10pt off 5pt] (bstat1.south) -- ([xshift=-28pt,yshift=10pt]btraf26.north);
\draw[bact] (bil1) -- (bil1r);
\draw[bdact] (bil1r.east) -- ([xshift=-5pt,yshift=2pt]btraf26.north west);
\draw[bact] (btnfa) -- (btnfr1);
\draw[bact] (btnfr1.east) -- ([xshift=-3pt,yshift=-6pt]btraf26.north west);
\draw[bact] (btgfb) -- (btgfbr);
\draw[inh] (bcyld.south) -- ([yshift=10pt]bcyld.south |- btraf26.north);
\draw[line width=1.2pt] ([xshift=3pt]bcyld.south) -- ([xshift=-10pt]bp62.north);
\draw[line width=1.2pt] ([xshift=-5pt]bp62.south) -- ([xshift=9pt]btraf26.north);
\draw[bact, shorten <=6pt] (bob2) -- (brankl);
\draw[bact] (brankl) -- (brank);
\draw[bact] (brank) -- (btraf26);
\draw[inh] (bopg.north) -- ([yshift=-6pt]brankl.south);
\draw[inh] ([xshift=-2pt]bfhl2.north) -- ([xshift=-13pt,yshift=-8pt]btraf26.south);
\draw[line width=1.2pt] ([xshift=2pt]btraf26.south) -- ([xshift=-4pt]bgab2.north);
\draw[bdact] (brank.south east) -- ([xshift=-4pt]bbtk.north);
\draw[bdact, rounded corners=10pt] ([xshift=-2pt]brank.south east) -- (468,1800) -- (468,1968) -- ([yshift=-5pt]bfcrg.north east);
\draw[bdact, rounded corners=10pt] (brank.south east) -- (473,1800) -- (473,2080) -- (bdap12.north east);
\draw[bdact, shorten <=14pt] (bob3) -- (bigl1);
\draw[bdact, shorten <=28pt] (bbmm) -- (bigl2);
\draw[line width=1.2pt] (bfcrg.east) -- (bsyk.west);
\draw[line width=1.2pt] (bdap12.east) -- (bsyk.west);
\draw[bact] (bsyk.east) -- (bblnk.west);
\draw[line width=1.2pt] (bbtk.south) -- (bblnk.north);
\draw[bact] (bbtk.east) -- ([xshift=-8pt,yshift=5pt]bplcg.north);
\draw[line width=1.2pt] (bgab2.south) -- (bplcg.north);
\draw[line width=1.2pt] (bblnk) -- (bplcg);
\draw[bact] (bplcg) -- (bip3);
\draw[bdact] (bip3) -- (bca);
\draw[bact] (bca) -- (bcn);
\draw[bact] (bcn) -- (bnfatc1a);
\draw[bact] (bnfatc1a) -- (bdna2);
\draw[bact] (bdna2.east) -- ([xshift=-20pt]bctsk.west |- bdna2.east);
\draw[bact] (bcreb.east) -- (bdna2);
\draw[bact] (bcreb.east) -- (bdna3);
\draw[bact] (bpparg.east) -- (bdna3);
\draw[bact] (bdna3.east) -- ([xshift=-20pt]bcfos.west |- bdna3.east);
\draw[bact] (bap1.east) -- (bdna2);
\draw[bact] (bap1.east) -- (bdna1);
\draw[bact] (bnfkb1) -- (bdna1);
\draw[bact] (bdna1.east) -- ([xshift=-20pt]bnfatc1b.west |- bdna1.east);
\draw[bact, rounded corners=20pt] (bnfkb2.east) -- (1462,1705) -- (bdna1);
\draw[line width=1.2pt] (bnfkb2.south) -- (bikb.north);
\draw[line width=1.2pt] ([xshift=-10pt,yshift=-13pt]bnfkb2.south) -- ([xshift=10pt,yshift=-13pt]bnfkb2.south);
\draw[bdact] (bsrc) -- (bpi3k);
\draw[bdact] (bpi3k) -- (bakt);
\draw[bdact] (bakt.north) -- (baktup);
\draw[line width=1.2pt] (bsrc.south) -- (btraf26.north east);
\draw[bdact, shorten >=5pt] ([yshift=-3pt]btraf26.north east) -- (bnik.west);
\draw[bact] (bnik) -- (bikka);
\draw[bact] (bikka) -- (bnfkb1);
\draw[bact] (btraf26) -- (btak1);
\draw[bact] (btak1.east) -- (btak1.east -| bikkb.west);
\draw[bact] (bikkb.east) -- (bikkb.east -| bikb.west);
\draw[bdact] (btraf26.south east) -- ([xshift=-10pt]brac1.north);
\draw[bact] (brac1.south) -- ([xshift=-5pt]bnadph.north);
\draw[bact] (bnadph) -- (bros);
\draw[bdact] (bros) -- ([yshift=-6pt]bp38.west);
\draw[bdact] (bros) -- ([yshift=-5pt]bjnk.west);
\draw[bact] (bmkk6) -- (bp38);
\draw[bact] (bmkk7) -- (bjnk);
\draw[bdact, rounded corners=8pt] ([yshift=-4pt]btak1.east) -- (822,1815) -- (840,1868) -- ([xshift=-9pt]bmkk6.west);
\draw[bact] ([xshift=13pt]bp38.south east |- bap1.west) -- (bap1.west);
\draw[bact] (bca) -- (bcamk.north);
\draw[bact] (bcamk) -- (bcreb);
\draw[line width=1.2pt] (bsocs) -- (bjak);
\draw[bact] (bifnb) -- (bifnar);
\draw[line width=1.2pt] (bifnar) -- (bjak);
\draw[bact] (bjak) -- (bstat12);
\draw[line width=1.2pt] (bstat12) -- (birf9);
\draw[inh, dash pattern=on 14pt off 8pt, rounded corners=8pt] (birf9.east) -- (bcfos.south |- birf9.east) -- ([yshift=-10pt]bcfos.south);
\end{tikzpicture}
\end{document}
